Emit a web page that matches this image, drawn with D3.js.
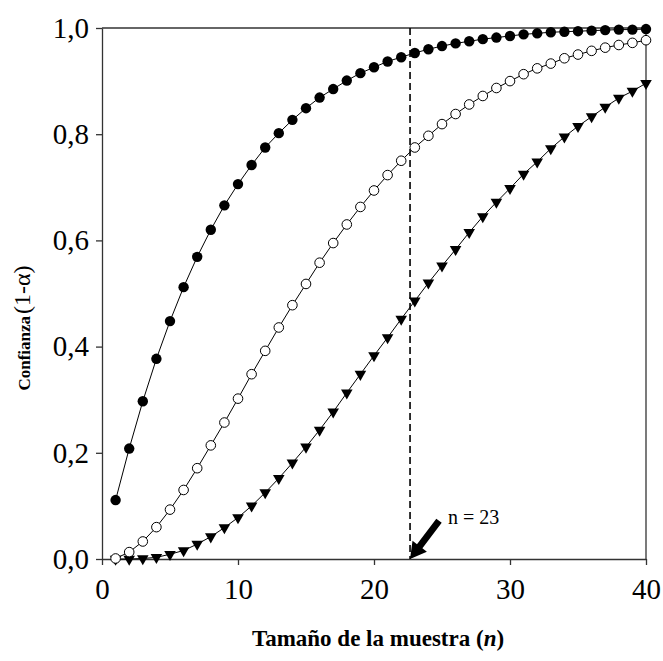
<!DOCTYPE html>
<html>
<head>
<meta charset="utf-8">
<script src="https://cdn.jsdelivr.net/npm/d3@7"></script>
<style>
  html, body { margin: 0; padding: 0; background: #fff; }
  svg { display: block; }
  text { font-family: "Liberation Serif", "Times New Roman", serif; fill: #000; }
</style>
</head>
<body>
<div id="chart"></div>
<script>
// ---- data ----
const sampleSizes = d3.range(1, 41);
const filledCircles = [0.111, 0.208, 0.297, 0.377, 0.448, 0.512, 0.569, 0.620, 0.666, 0.706,
  0.742, 0.775, 0.802, 0.827, 0.849, 0.869, 0.885, 0.901, 0.915, 0.926,
  0.937, 0.945, 0.953, 0.960, 0.966, 0.971, 0.975, 0.979, 0.982, 0.985,
  0.988, 0.990, 0.992, 0.993, 0.994, 0.995, 0.996, 0.997, 0.997, 0.998];
const openCircles = [0.001, 0.013, 0.033, 0.060, 0.093, 0.130, 0.171, 0.214, 0.257, 0.302,
  0.348, 0.392, 0.436, 0.478, 0.518, 0.558, 0.595, 0.630, 0.663, 0.694,
  0.723, 0.750, 0.775, 0.797, 0.819, 0.838, 0.856, 0.872, 0.887, 0.900,
  0.913, 0.924, 0.933, 0.943, 0.950, 0.957, 0.963, 0.968, 0.972, 0.977];
const triangles = [0.000, 0.000, 0.001, 0.003, 0.009, 0.016, 0.028, 0.042, 0.059, 0.078,
  0.100, 0.125, 0.152, 0.181, 0.211, 0.243, 0.277, 0.313, 0.348, 0.383,
  0.417, 0.452, 0.486, 0.520, 0.552, 0.583, 0.615, 0.645, 0.672, 0.698,
  0.725, 0.748, 0.773, 0.795, 0.815, 0.833, 0.851, 0.868, 0.881, 0.896];
const xTicks = [0, 10, 20, 30, 40];
const yTicks = [0, 0.2, 0.4, 0.6, 0.8, 1.0];
const markerLine = 22.65;            // dashed reference line
const arrowLabel = "n = 23";
const arrowTail = [24.78, 0.072];    // data coords of arrow tail
const xTitle = "Tamaño de la muestra (";
const xTitleItalic = "n";
const yTitleBold = "Confianza";
const yTitleRegular = "(1-α)";

// ---- layout ----
const W = 663, H = 661;
const svg = d3.select("#chart").append("svg").attr("width", W).attr("height", H);

const x = d3.scaleLinear().domain([0, 40]).range([102, 646]);
const y = d3.scaleLinear().domain([0, 1]).range([559, 28]);

const fmt = v => d3.format(".1f")(v).replace(".", ",");

// box (top and right)
svg.append("line").attr("x1", x(0)).attr("x2", x(40)).attr("y1", y(1)).attr("y2", y(1))
  .attr("stroke", "#333").attr("stroke-width", 1.3);
svg.append("line").attr("x1", x(40)).attr("x2", x(40)).attr("y1", y(1)).attr("y2", y(0))
  .attr("stroke", "#333").attr("stroke-width", 1.3);

// axes
const yAxis = svg.append("g").attr("transform", `translate(${x(0)},0)`)
  .call(d3.axisLeft(y).tickValues(yTicks).tickFormat(fmt).tickSizeInner(6).tickSizeOuter(0).tickPadding(7));
const xAxis = svg.append("g").attr("transform", `translate(0,${y(0)})`)
  .call(d3.axisBottom(x).tickValues(xTicks).tickSizeInner(6).tickSizeOuter(0).tickPadding(13));
[yAxis, xAxis].forEach(g => {
  g.selectAll("path, line").attr("stroke", "#333").attr("stroke-width", 1.3);
  g.selectAll("text").style("font-size", "29px").style("font-family", "Liberation Serif");
});

// dashed reference line
svg.append("line")
  .attr("x1", x(markerLine)).attr("x2", x(markerLine))
  .attr("y1", y(1)).attr("y2", y(0))
  .attr("stroke", "#000").attr("stroke-width", 1.6).attr("stroke-dasharray", "7,4");

// series
const line = d3.line().x((d, i) => x(sampleSizes[i])).y(d => y(d));
[filledCircles, openCircles, triangles].forEach(s => {
  svg.append("path").datum(s).attr("d", line).attr("fill", "none")
    .attr("stroke", "#000").attr("stroke-width", 1);
});

svg.append("g").selectAll("path").data(triangles).join("path")
  .attr("transform", (d, i) => `translate(${x(sampleSizes[i])},${y(d)}) rotate(180)`)
  .attr("d", d3.symbol(d3.symbolTriangle, 58)())
  .attr("fill", "#000");

svg.append("g").selectAll("circle").data(openCircles).join("circle")
  .attr("cx", (d, i) => x(sampleSizes[i])).attr("cy", d => y(d)).attr("r", 4.8)
  .attr("fill", "#fff").attr("stroke", "#000").attr("stroke-width", 1);

svg.append("g").selectAll("circle").data(filledCircles).join("circle")
  .attr("cx", (d, i) => x(sampleSizes[i])).attr("cy", d => y(d)).attr("r", 5.2)
  .attr("fill", "#000");

// arrow
(function () {
  const tx = x(markerLine), ty = y(0);
  const sx = x(arrowTail[0]), sy = y(arrowTail[1]);
  const dx = tx - sx, dy = ty - sy, L = Math.hypot(dx, dy);
  const ux = dx / L, uy = dy / L, px = -uy, py = ux;
  const headLen = 16, headW = 9, shaftW = 3.4;
  const bx = tx - ux * headLen, by = ty - uy * headLen;
  const pts = [
    [sx + px * shaftW, sy + py * shaftW],
    [bx + px * shaftW, by + py * shaftW],
    [bx + px * headW, by + py * headW],
    [tx, ty],
    [bx - px * headW, by - py * headW],
    [bx - px * shaftW, by - py * shaftW],
    [sx - px * shaftW, sy - py * shaftW]
  ];
  svg.append("path").attr("d", "M" + pts.map(p => p.join(",")).join("L") + "Z").attr("fill", "#000");
  svg.append("text").attr("x", sx + 9).attr("y", sy + 3)
    .style("font-size", "20px").text(arrowLabel);
})();

// axis titles
const xt = svg.append("text").attr("x", (x(0) + x(40)) / 2 + 4).attr("y", 646)
  .attr("text-anchor", "middle").style("font-size", "23px").style("font-weight", "bold");
xt.append("tspan").text(xTitle);
xt.append("tspan").style("font-style", "italic").text(xTitleItalic);
xt.append("tspan").text(")");

const yt = svg.append("text").attr("transform", `translate(30,328) rotate(-90)`)
  .attr("text-anchor", "middle");
yt.append("tspan").style("font-size", "17px").style("font-weight", "bold").text(yTitleBold);
yt.append("tspan").style("font-size", "24px").attr("dx", 2).text(yTitleRegular);
</script>
</body>
</html>
